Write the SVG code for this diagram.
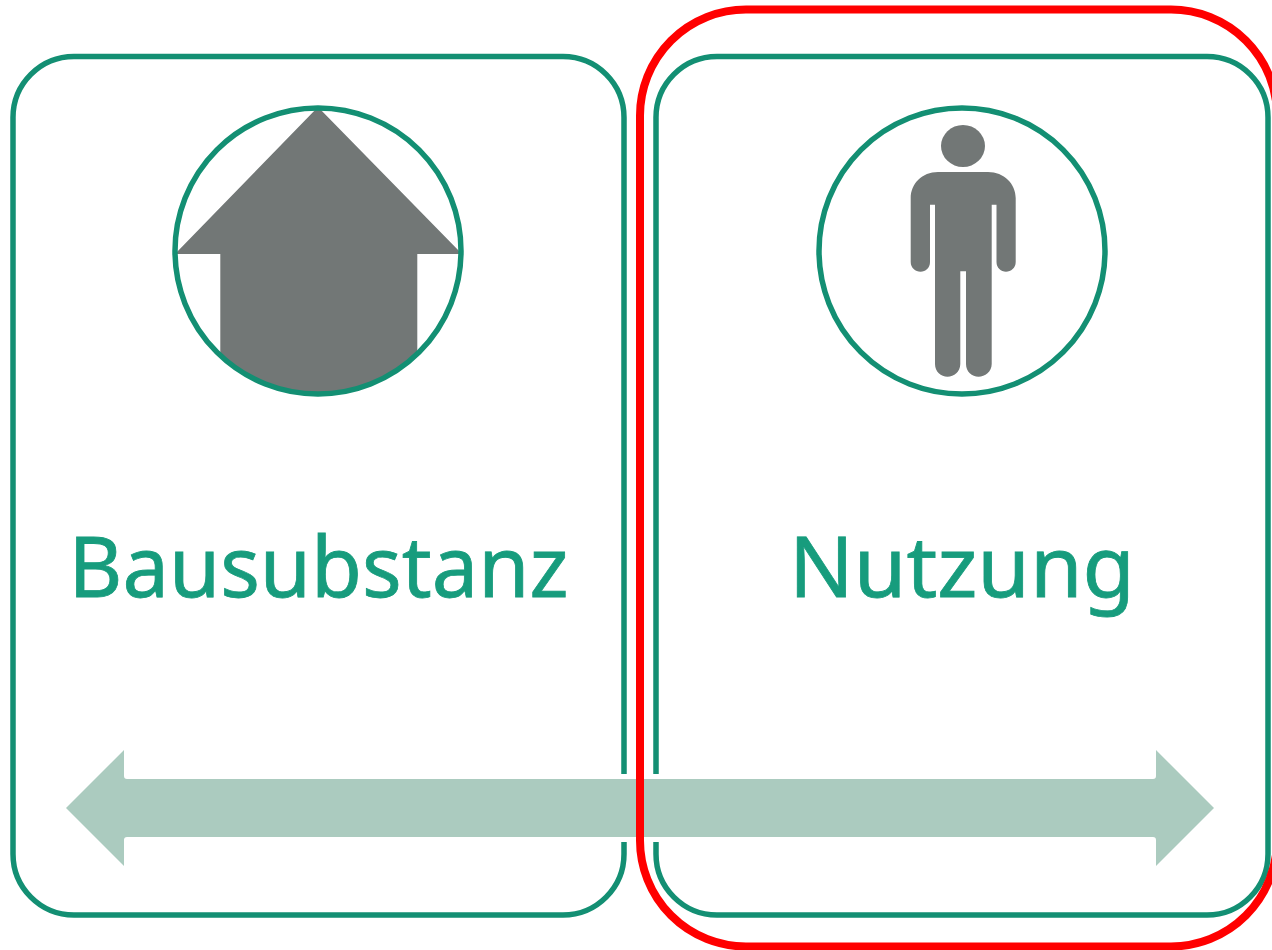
<svg xmlns="http://www.w3.org/2000/svg" width="1272" height="950" viewBox="0 0 1272 950">
<style>
.box{fill:#fff;stroke:#138f73;stroke-width:5.500}
.ring{fill:none;stroke:#138f73;stroke-width:5.500}
.icon{fill:#727776}
.label{font-family:"Noto Sans","Open Sans","Liberation Sans",sans-serif;font-size:84px;fill:#179c7d;stroke:#179c7d;stroke-width:0.800;text-anchor:middle}
</style>
<defs><clipPath id="houseClip"><circle cx="318" cy="251" r="143"/></clipPath></defs>
<rect width="1272" height="950" fill="#fff"/>
<g id="node-bausubstanz">
<rect class="box" x="13" y="56.500" width="611" height="858.500" rx="61" ry="61"/>
<path class="icon" clip-path="url(#houseClip)" d="M318 107L175 254H220.300V400H417.300V254H462Z"/>
<circle class="ring" cx="318" cy="251" r="143"/>
<text class="label" x="318.500" y="597" textLength="500" lengthAdjust="spacingAndGlyphs">Bausubstanz</text>
</g>
<g id="node-nutzung">
<rect class="box" x="656" y="56.500" width="612" height="858.500" rx="61" ry="61"/>
<circle class="ring" cx="962" cy="251" r="143"/>
<ellipse class="icon" cx="963" cy="146" rx="22" ry="21"/>
<path class="icon" d="M938 172H988C1004 172 1015.700 184 1015.700 198V262C1015.700 268 1011 271.700 1006 271.700S996.500 268 996.500 262V204.700H991.700V364C991.700 372 985 376.700 978.500 376.700S966 372 966 364V271.300H960.300V364C960.300 372 954 376.700 947.500 376.700S935 372 935 364V204.700H930V262C930 268 925.500 271.700 920.500 271.700S910.700 268 910.700 262V198C910.700 184 922 172 938 172Z"/>
<text class="label" x="962" y="597" textLength="346" lengthAdjust="spacingAndGlyphs">Nutzung</text>
</g>
<g id="connectors">
<path d="M66 808L124 750V776Q124 779 127 779H1153Q1156 779 1156 776V750L1214 808L1156 866V840Q1156 837 1153 837H127Q124 837 124 840V866Z" fill="#abcbbf" stroke="#fff" stroke-width="10" paint-order="stroke"/>
</g>
<g id="node-highlight">
<rect x="640" y="9.500" width="637" height="937" rx="106" ry="106" fill="none" stroke="#ff0000" stroke-width="8"/>
</g>
</svg>
